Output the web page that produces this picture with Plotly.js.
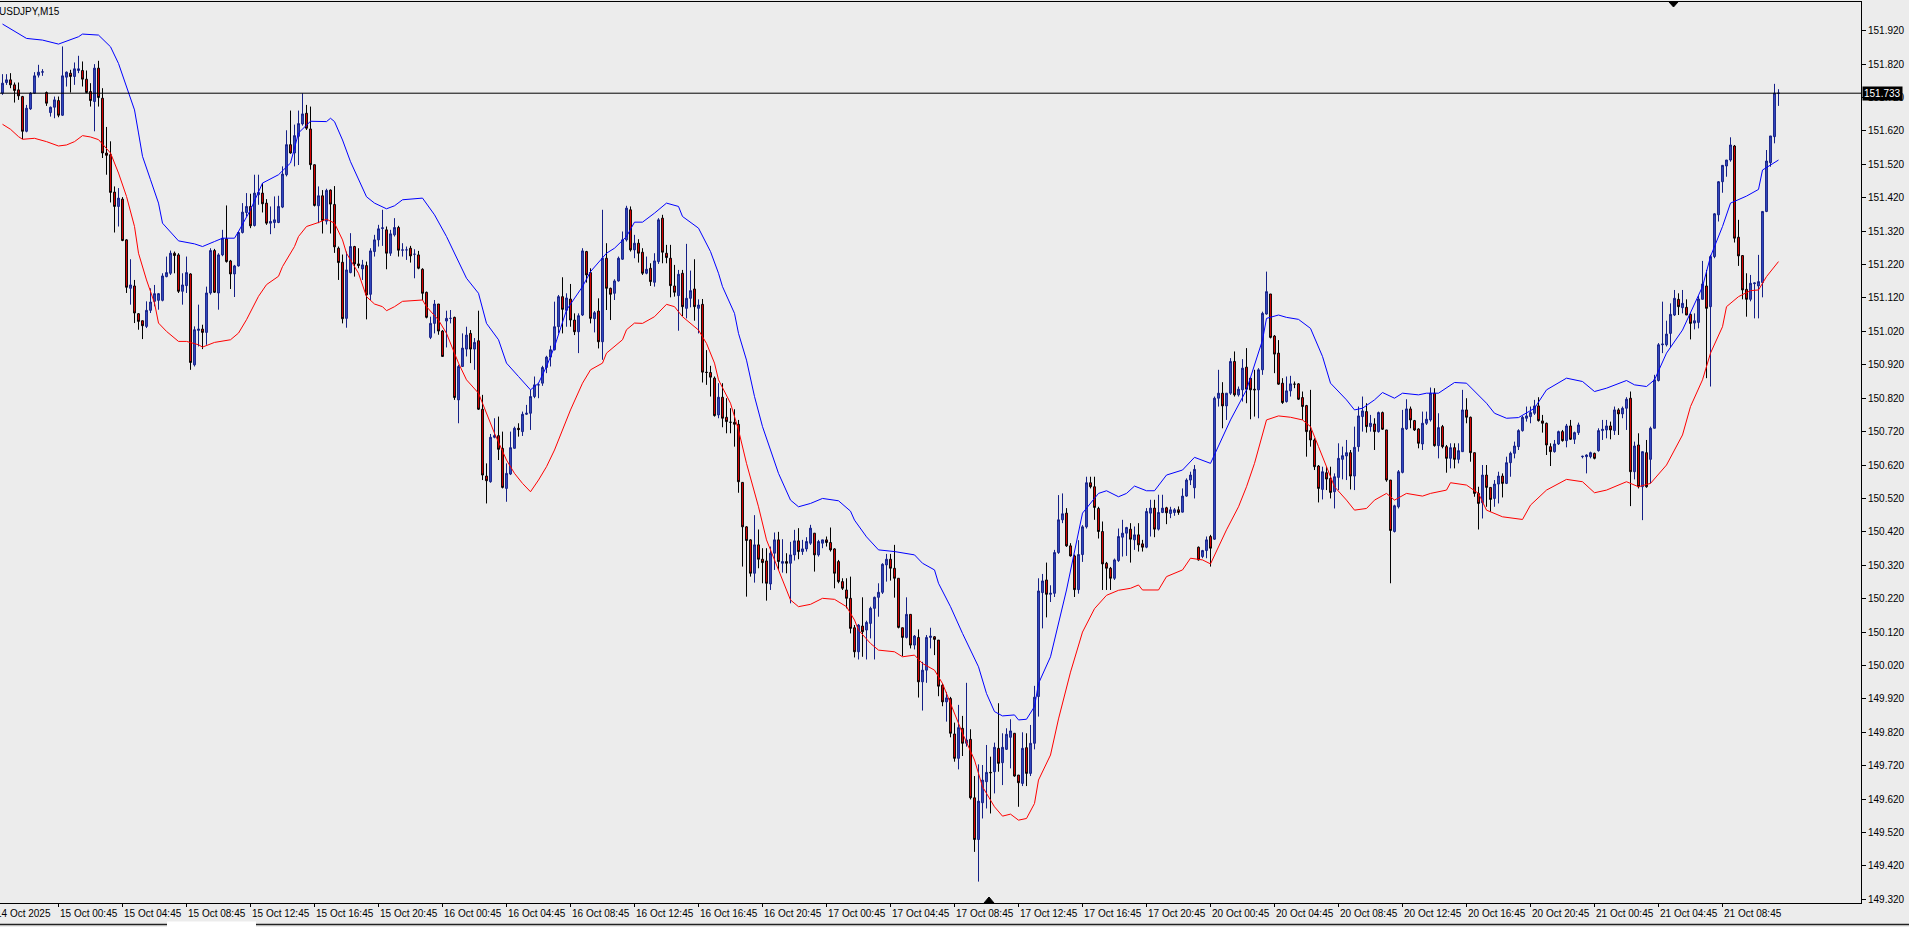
<!DOCTYPE html>
<html><head><meta charset="utf-8">
<script src="https://cdn.plot.ly/plotly-3.0.1.min.js"></script>
<style>html,body{margin:0;padding:0;background:#ececec;overflow:hidden}#chart{width:1909px;height:927px}</style>
</head><body><div id="chart"></div>
<script>
const symbolTitle = 'USDJPY,M15';
const lastPrice = 151.733;

const open = [
151.733,151.765,151.773,151.758,151.743,151.723,151.619,151.686,151.733,151.787,
151.796,151.735,151.675,151.691,151.711,151.667,151.781,151.793,151.783,151.801,
151.801,151.775,151.738,151.708,151.808,151.718,151.554,151.549,151.437,151.394,
151.416,151.294,151.149,151.156,151.073,151.052,151.035,151.083,151.110,151.113,
151.113,151.184,151.194,151.254,151.249,151.140,151.157,151.192,150.920,151.023,
151.027,151.017,151.135,151.262,151.135,151.249,151.297,151.231,151.192,151.216,
151.316,151.376,151.394,151.337,151.429,151.434,151.404,151.344,151.346,151.346,
151.392,151.489,151.579,151.554,151.604,151.641,151.673,151.626,151.519,151.396,
151.426,151.350,151.443,151.400,151.269,151.227,151.059,151.196,151.274,151.222,
151.207,151.217,151.131,151.259,151.294,151.328,151.324,151.254,151.309,151.331,
151.263,151.264,151.269,151.251,151.249,151.206,151.137,151.002,151.044,151.102,
151.021,151.051,151.059,151.062,150.815,150.915,150.967,151.014,150.967,150.992,
150.787,150.587,150.570,150.703,150.708,150.670,150.550,150.593,150.670,150.730,
150.720,150.772,150.775,150.825,150.860,150.865,150.912,150.943,150.965,151.034,
151.124,151.083,151.117,151.054,151.019,151.069,151.259,151.196,151.058,151.081,
150.989,151.239,151.149,151.134,151.171,151.236,151.294,151.384,151.264,151.284,
151.257,151.194,151.209,151.167,151.229,151.359,151.254,151.239,151.156,151.127,
151.194,151.089,151.119,151.147,151.089,151.101,150.898,150.897,150.880,150.770,
150.823,150.763,150.748,150.748,150.742,150.568,150.435,150.396,150.296,150.381,
150.338,150.333,150.264,150.356,150.396,150.326,150.331,150.326,150.351,150.393,
150.361,150.369,150.386,150.416,150.351,150.386,150.396,150.388,150.369,150.331,
150.271,150.246,150.221,150.133,150.061,150.138,150.126,150.146,150.191,150.224,
150.239,150.321,150.338,150.311,150.281,150.133,150.104,150.173,150.081,150.104,
149.971,150.006,150.104,150.106,150.096,149.961,149.911,149.921,149.815,149.742,
149.832,149.787,149.799,149.624,149.499,149.609,149.672,149.700,149.702,149.772,
149.729,149.769,149.805,149.817,149.692,149.667,149.774,149.697,149.787,149.927,
150.238,150.276,150.233,150.236,150.358,150.456,150.476,150.378,150.348,150.247,
150.352,150.435,150.567,150.555,150.490,150.421,150.326,150.311,150.281,150.334,
150.404,150.416,150.428,150.396,150.411,150.384,150.374,150.476,150.491,150.428,
150.478,150.492,150.475,150.478,150.486,150.479,150.527,150.575,150.552,150.374,
150.346,150.364,150.406,150.398,150.820,150.835,150.797,150.835,150.930,150.830,
150.845,150.913,150.880,150.847,150.845,150.905,151.072,151.132,151.006,150.955,
150.865,150.810,150.842,150.862,150.863,150.822,150.798,150.723,150.695,150.617,
150.547,150.597,150.580,150.540,150.583,150.637,150.647,150.657,150.587,150.675,
150.765,150.780,150.735,150.743,150.720,150.777,150.725,150.575,150.421,150.495,
150.598,150.728,150.788,150.753,150.728,150.683,150.745,150.755,150.835,150.678,
150.735,150.675,150.640,150.672,150.637,150.660,150.785,150.763,150.657,150.535,
150.507,150.590,150.553,150.520,150.563,150.587,150.565,150.627,150.655,150.675,
150.723,150.760,150.765,150.775,150.797,150.752,150.745,150.675,150.660,150.683,
150.720,150.693,150.737,150.697,150.717,150.645,150.645,150.645,150.655,150.663,
150.723,150.725,150.737,150.723,150.785,150.773,150.790,150.820,150.600,150.680,
150.555,150.657,150.637,150.730,150.873,150.980,150.980,151.014,151.069,151.116,
151.091,151.092,151.071,151.045,151.047,151.116,151.156,151.094,151.244,151.369,
151.468,151.515,151.533,151.575,151.302,151.247,151.146,151.116,151.163,151.156,
151.166,151.379,151.525,151.603,151.733];

const high = [
151.790,151.790,151.793,151.765,151.765,151.725,151.698,151.736,151.796,151.818,
151.805,151.738,151.693,151.723,151.723,151.873,151.798,151.803,151.825,151.845,
151.828,151.801,151.763,151.820,151.830,151.748,151.632,151.589,151.454,151.449,
151.422,151.296,151.236,151.174,151.075,151.052,151.110,151.149,151.159,151.135,
151.194,151.244,151.262,151.259,151.254,151.194,151.244,151.194,151.035,151.100,
151.040,151.154,151.269,151.267,151.254,151.324,151.397,151.234,151.219,151.320,
151.404,151.434,151.432,151.489,151.489,151.464,151.416,151.394,151.424,151.426,
151.514,151.622,151.681,151.639,151.681,151.733,151.698,151.693,151.519,151.454,
151.443,151.447,151.445,151.455,151.274,151.250,151.259,151.314,151.276,151.269,
151.234,151.229,151.269,151.309,151.339,151.384,151.334,151.324,151.359,151.336,
151.284,151.274,151.276,151.266,151.261,151.209,151.139,151.064,151.114,151.102,
151.024,151.082,151.084,151.064,150.920,151.014,151.034,151.024,151.000,151.082,
150.830,150.625,150.713,150.760,150.765,150.720,150.625,150.720,150.735,150.745,
150.780,150.800,150.845,150.885,150.865,150.917,150.947,150.977,151.109,151.129,
151.182,151.134,151.162,151.074,151.074,151.269,151.261,151.209,151.081,151.119,
151.384,151.284,151.151,151.176,151.244,151.319,151.396,151.394,151.309,151.296,
151.269,151.244,151.224,151.254,151.359,151.369,151.279,151.279,151.219,151.204,
151.204,151.282,151.202,151.236,151.116,151.117,150.964,150.917,150.885,150.865,
150.865,150.820,150.790,150.787,150.755,150.568,150.437,150.398,150.470,150.427,
150.371,150.371,150.376,150.418,150.420,150.398,150.356,150.390,150.426,150.431,
150.396,150.404,150.441,150.416,150.396,150.396,150.406,150.433,150.371,150.336,
150.281,150.281,150.286,150.141,150.144,150.224,150.154,150.196,150.226,150.266,
150.326,150.354,150.354,150.381,150.281,150.133,150.224,150.173,150.111,150.128,
150.031,150.111,150.133,150.108,150.096,149.966,149.941,149.926,149.849,149.902,
149.869,149.968,149.829,149.689,149.724,149.722,149.782,149.747,149.789,149.907,
149.817,149.832,149.859,149.817,149.692,149.820,149.817,149.842,149.959,150.281,
150.294,150.328,150.260,150.366,150.530,150.535,150.491,150.386,150.352,150.395,
150.440,150.585,150.585,150.585,150.495,150.451,150.330,150.315,150.340,150.430,
150.456,150.435,150.446,150.436,150.446,150.396,150.491,150.516,150.516,150.531,
150.531,150.495,150.495,150.491,150.496,150.550,150.580,150.600,150.620,150.376,
150.366,150.406,150.411,150.825,150.905,150.868,150.835,150.940,150.960,150.855,
150.937,150.970,150.880,150.905,150.910,151.079,151.199,151.132,151.009,150.994,
150.880,150.885,150.887,150.870,150.865,150.840,150.800,150.845,150.700,150.620,
150.615,150.615,150.615,150.595,150.685,150.675,150.695,150.665,150.735,150.795,
150.825,150.805,150.770,150.760,150.780,150.780,150.725,150.575,150.501,150.605,
150.785,150.817,150.795,150.755,150.730,150.780,150.780,150.852,150.850,150.775,
150.740,150.680,150.685,150.685,150.685,150.845,150.820,150.765,150.657,150.555,
150.620,150.620,150.553,150.575,150.600,150.595,150.645,150.660,150.690,150.727,
150.767,150.795,150.795,150.815,150.823,150.770,150.747,150.685,150.695,150.723,
150.725,150.743,150.755,150.720,150.747,150.648,150.652,150.660,150.657,150.730,
150.755,150.755,150.750,150.795,150.790,150.795,150.823,150.840,150.690,150.715,
150.660,150.695,150.735,150.890,150.985,151.109,151.052,151.104,151.144,151.134,
151.144,151.116,151.074,151.074,151.126,151.231,151.204,151.249,151.374,151.470,
151.518,151.533,151.601,151.578,151.354,151.247,151.194,151.189,151.166,151.249,
151.379,151.563,151.605,151.761,151.745];

const low = [
151.728,151.758,151.748,151.705,151.713,151.596,151.616,151.683,151.731,151.780,
151.785,151.695,151.663,151.658,151.661,151.665,151.753,151.735,151.758,151.793,
151.753,151.733,151.693,151.619,151.693,151.539,151.489,151.406,151.316,151.334,
151.290,151.135,151.100,151.045,151.025,150.997,151.030,151.075,151.095,151.085,
151.110,151.182,151.189,151.194,151.135,151.100,151.135,150.905,150.915,150.975,
150.967,150.980,151.130,151.135,151.085,151.245,151.226,151.147,151.123,151.214,
151.313,151.364,151.329,151.334,151.399,151.376,151.339,151.311,151.329,151.344,
151.389,151.484,151.552,151.514,151.518,151.636,151.623,151.504,151.394,151.344,
151.313,151.340,151.313,151.255,151.174,151.044,151.031,151.194,151.184,151.209,
151.174,151.056,151.114,151.244,151.274,151.276,151.206,151.246,151.304,151.244,
151.244,151.234,151.226,151.179,151.206,151.114,151.059,150.997,151.014,151.010,
150.945,150.972,151.044,150.815,150.745,150.915,150.945,150.925,150.905,150.785,
150.575,150.505,150.567,150.700,150.635,150.550,150.510,150.590,150.670,150.705,
150.707,150.770,150.725,150.820,150.820,150.857,150.895,150.915,150.963,151.014,
151.014,151.034,151.034,151.009,150.955,151.066,151.166,151.044,151.017,150.969,
150.935,151.084,151.054,151.114,151.169,151.234,151.289,151.259,151.239,151.226,
151.189,151.191,151.156,151.154,151.222,151.224,151.224,151.122,151.124,151.022,
151.066,151.059,151.092,151.052,151.014,150.867,150.860,150.825,150.765,150.760,
150.733,150.715,150.715,150.675,150.537,150.316,150.226,150.286,150.268,150.311,
150.266,150.214,150.246,150.306,150.306,150.298,150.296,150.206,150.334,150.338,
150.351,150.361,150.381,150.301,150.346,150.371,150.376,150.361,150.251,150.266,
150.246,150.191,150.116,150.044,150.038,150.046,150.038,150.101,150.038,150.166,
150.234,150.271,150.274,150.223,150.131,150.048,150.101,150.071,150.068,149.924,
149.885,149.968,150.071,150.051,149.928,149.898,149.852,149.805,149.732,149.709,
149.749,149.777,149.619,149.462,149.373,149.562,149.592,149.577,149.637,149.702,
149.662,149.767,149.712,149.687,149.597,149.659,149.659,149.689,149.769,149.867,
150.131,150.164,150.210,150.225,150.354,150.446,150.375,150.346,150.225,150.235,
150.330,150.430,150.550,150.456,150.400,150.246,150.246,150.246,150.276,150.330,
150.346,150.348,150.328,150.366,150.361,150.361,150.371,150.406,150.404,150.424,
150.476,150.443,150.461,150.468,150.471,150.478,150.525,150.560,150.520,150.334,
150.341,150.341,150.316,150.396,150.795,150.730,150.755,150.830,150.825,150.825,
150.810,150.805,150.757,150.765,150.760,150.890,151.070,150.999,150.895,150.860,
150.803,150.807,150.825,150.850,150.815,150.755,150.645,150.675,150.605,150.508,
150.517,150.545,150.520,150.490,150.545,150.577,150.575,150.547,150.545,150.660,
150.720,150.717,150.720,150.665,150.717,150.725,150.570,150.266,150.418,150.490,
150.595,150.725,150.730,150.722,150.670,150.665,150.740,150.750,150.675,150.640,
150.670,150.597,150.610,150.610,150.625,150.660,150.745,150.630,150.525,150.427,
150.460,150.495,150.480,150.495,150.505,150.523,150.563,150.585,150.640,150.665,
150.720,150.750,150.745,150.770,150.750,150.717,150.650,150.617,150.657,150.680,
150.690,150.673,150.695,150.683,150.710,150.640,150.595,150.640,150.637,150.660,
150.695,150.700,150.697,150.710,150.710,150.760,150.725,150.497,150.577,150.550,
150.455,150.552,150.565,150.730,150.870,150.955,150.975,150.972,151.066,151.069,
151.074,151.069,150.996,151.026,151.029,151.116,150.880,150.855,151.239,151.349,
151.435,151.483,151.528,151.286,151.216,151.116,151.064,151.110,151.059,151.059,
151.122,151.377,151.513,151.583,151.695];

const close = [
151.763,151.773,151.758,151.741,151.725,151.619,151.688,151.733,151.785,151.796,
151.797,151.703,151.691,151.713,151.667,151.785,151.796,151.783,151.806,151.806,
151.775,151.735,151.711,151.808,151.720,151.554,151.547,151.436,151.394,151.419,
151.292,151.152,151.159,151.075,151.050,151.037,151.083,151.108,151.133,151.133,
151.186,151.196,151.254,151.247,151.140,151.159,151.196,150.927,151.025,151.027,
151.017,151.135,151.262,151.137,151.249,151.299,151.229,151.192,151.216,151.316,
151.377,151.394,151.336,151.434,151.436,151.402,151.344,151.349,151.354,151.394,
151.491,151.579,151.554,151.606,151.642,151.671,151.628,151.519,151.397,151.426,
151.352,151.442,151.401,151.273,151.226,151.058,151.204,151.274,151.222,151.217,
151.219,151.129,151.261,151.294,151.327,151.330,151.254,151.312,151.331,151.263,
151.264,151.264,151.246,151.251,151.209,151.134,151.062,151.044,151.102,151.021,
150.945,151.059,151.059,150.822,150.915,150.970,151.009,150.967,150.987,150.787,
150.590,150.573,150.703,150.708,150.667,150.553,150.595,150.672,150.730,150.726,
150.772,150.775,150.825,150.860,150.860,150.912,150.943,150.965,151.034,151.124,
151.086,151.120,151.054,151.019,151.067,151.261,151.189,151.059,151.076,150.989,
151.239,151.149,151.131,151.171,151.239,151.294,151.389,151.264,151.284,151.254,
151.194,151.206,151.169,151.231,151.354,151.257,151.241,151.157,151.137,151.191,
151.094,151.119,151.142,151.094,151.099,150.898,150.897,150.883,150.768,150.823,
150.760,150.750,150.748,150.742,150.570,150.435,150.394,150.296,150.381,150.338,
150.328,150.266,150.356,150.396,150.331,150.331,150.326,150.351,150.393,150.361,
150.369,150.391,150.431,150.351,150.391,150.396,150.388,150.366,150.296,150.271,
150.251,150.221,150.131,150.061,150.141,150.121,150.149,150.191,150.224,150.239,
150.323,150.338,150.311,150.281,150.134,150.104,150.173,150.081,150.108,149.971,
150.006,150.104,150.108,150.098,149.958,149.911,149.923,149.817,149.742,149.834,
149.787,149.797,149.624,149.499,149.614,149.677,149.700,149.699,149.775,149.727,
149.775,149.814,149.824,149.689,149.669,149.772,149.697,149.787,149.925,150.243,
150.273,150.233,150.236,150.358,150.456,150.474,150.378,150.348,150.247,150.352,
150.435,150.567,150.555,150.493,150.421,150.324,150.311,150.281,150.336,150.406,
150.416,150.433,150.398,150.411,150.381,150.374,150.481,150.491,150.428,150.478,
150.491,150.477,150.486,150.486,150.478,150.527,150.575,150.590,150.607,150.336,
150.364,150.396,150.371,150.820,150.835,150.797,150.835,150.930,150.830,150.847,
150.910,150.847,150.845,150.845,150.905,151.074,151.139,151.002,150.952,150.862,
150.807,150.842,150.863,150.862,150.817,150.795,150.720,150.695,150.615,150.550,
150.600,150.578,150.538,150.585,150.640,150.648,150.657,150.587,150.673,150.767,
150.782,150.735,150.745,150.720,150.777,150.727,150.575,150.424,150.498,150.600,
150.730,150.788,150.755,150.725,150.685,150.745,150.757,150.835,150.678,150.732,
150.675,150.640,150.672,150.637,150.663,150.785,150.763,150.657,150.535,150.505,
150.590,150.553,150.517,150.563,150.587,150.565,150.627,150.655,150.677,150.723,
150.763,150.767,150.777,150.797,150.753,150.745,150.680,150.660,150.683,150.720,
150.693,150.737,150.697,150.717,150.740,150.646,150.650,150.657,150.640,150.723,
150.727,150.737,150.725,150.785,150.773,150.790,150.817,150.600,150.677,150.555,
150.660,150.555,150.730,150.875,150.980,150.982,151.012,151.071,151.119,151.094,
151.104,151.069,151.044,151.052,151.117,151.162,151.089,151.244,151.372,151.468,
151.517,151.533,151.578,151.299,151.246,151.144,151.116,151.164,151.165,151.169,
151.379,151.530,151.605,151.733,151.733];

// upper (blue) band, read at bar positions
const upperBar = [0,4,6,10,14,19,20,24,27,29,
31,33,34,35,37,39,40,43,44,48,
50,53,55,58,59,62,65,69,72,74,
77,81,82,83,85,87,89,91,93,96,
98,100,105,108,111,113,116,119,121,124,
126,129,132,134,136,138,141,145,147,151,
153,156,158,160,163,166,169,170,174,177,
179,180,183,184,186,188,190,192,194,197,
199,202,205,209,212,213,216,219,223,228,
230,233,234,237,240,244,246,248,250,253,
254,256,258,259,262,266,269,270,274,276,
279,281,283,286,288,291,295,298,302,304,
307,311,315,316,319,321,324,327,330,332,
336,338,340,343,345,348,350,354,356,359,
361,363,366,371,373,376,379,383,386,391,
395,398,401,406,408,411,413,416,420,422,
425,427,430,432,436,439,440,444];
const upperVal = [151.940,151.912,151.897,151.892,151.880,151.902,151.910,151.907,151.872,151.822,
151.752,151.683,151.614,151.544,151.474,151.404,151.344,151.304,151.291,151.282,
151.274,151.289,151.299,151.299,151.319,151.384,151.464,151.489,151.524,151.614,
151.649,151.648,151.658,151.648,151.593,151.528,151.473,151.423,151.404,151.387,
151.396,151.414,151.419,151.369,151.304,151.254,151.179,151.134,151.044,150.995,
150.925,150.885,150.845,150.865,150.915,150.974,151.084,151.154,151.199,151.254,
151.269,151.304,151.347,151.347,151.374,151.404,151.394,151.364,151.329,151.259,
151.194,151.154,151.074,151.014,150.934,150.825,150.735,150.665,150.595,150.515,
150.495,150.505,150.520,150.513,150.482,150.455,150.405,150.366,150.361,150.351,
150.326,150.306,150.266,150.196,150.116,150.016,149.936,149.882,149.869,149.872,
149.857,149.859,149.897,149.966,150.046,150.246,150.426,150.476,150.535,150.543,
150.525,150.535,150.557,150.543,150.543,150.590,150.605,150.643,150.625,150.675,
150.755,150.845,150.994,151.059,151.069,151.062,151.056,151.029,150.945,150.865,
150.815,150.785,150.790,150.815,150.837,150.820,150.835,150.830,150.835,150.835,
150.850,150.867,150.865,150.805,150.775,150.760,150.762,150.790,150.845,150.880,
150.870,150.840,150.850,150.873,150.860,150.855,150.875,150.955,151.024,151.074,
151.154,151.244,151.334,151.404,151.425,151.445,151.503,151.533];

// lower (red) band, read at bar positions
const lowerBar = [0,2,4,5,8,11,14,16,18,20,
22,24,27,29,31,33,34,36,38,39,
41,44,46,49,50,53,57,59,61,64,
66,69,70,73,74,76,79,81,83,85,
86,89,91,93,95,96,98,100,105,106,
109,111,114,116,119,121,123,126,128,130,
132,134,136,138,140,142,145,147,150,151,
155,156,158,160,163,166,168,170,174,176,
178,179,182,184,186,189,191,194,197,199,
202,205,208,211,213,214,217,219,223,225,
228,230,233,235,238,240,243,245,248,250,
252,254,256,258,259,262,264,267,270,273,
276,279,282,284,285,289,291,295,297,300,
302,304,306,309,311,313,315,316,319,322,
325,327,329,331,333,336,338,341,343,346,
348,351,355,357,361,362,366,369,371,375,
380,382,386,391,395,398,401,406,409,412,
416,420,422,425,427,430,431,434,437,439,
441,444];
const lowerVal = [151.640,151.625,151.603,151.595,151.598,151.588,151.575,151.578,151.588,151.606,
151.602,151.594,151.554,151.494,151.424,151.334,151.254,151.174,151.105,151.045,
151.020,150.990,150.990,150.980,150.973,150.987,150.995,151.015,151.055,151.125,
151.160,151.185,151.214,151.274,151.304,151.334,151.346,151.356,151.344,151.294,
151.254,151.194,151.124,151.102,151.094,151.082,151.094,151.110,151.114,151.094,
151.054,151.014,150.925,150.875,150.835,150.775,150.715,150.635,150.595,150.565,
150.540,150.575,150.615,150.665,150.725,150.785,150.865,150.905,150.925,150.955,
150.995,151.025,151.045,151.044,151.064,151.101,151.094,151.064,151.024,150.984,
150.925,150.875,150.805,150.725,150.625,150.495,150.396,150.306,150.216,150.196,
150.203,150.221,150.218,150.196,150.156,150.126,150.086,150.066,150.061,150.046,
150.051,150.026,150.006,149.966,149.876,149.817,149.737,149.657,149.597,149.569,
149.575,149.557,149.562,149.607,149.677,149.752,149.860,150.000,150.120,150.190,
150.230,150.245,150.251,150.261,150.246,150.246,150.286,150.306,150.341,150.336,
150.324,150.376,150.426,150.495,150.555,150.625,150.715,150.755,150.767,150.763,
150.755,150.735,150.675,150.615,150.555,150.515,150.485,150.490,150.515,150.535,
150.515,150.535,150.527,150.535,150.545,150.567,150.560,150.535,150.485,150.465,
150.457,150.500,150.545,150.577,150.570,150.537,150.545,150.570,150.555,150.565,
150.620,150.710,150.795,150.875,150.955,151.034,151.094,151.124,151.142,151.144,
151.184,151.229];

const timeLabelBars = [-2,14,30,46,62,78,94,110,126,142,158,174,190,206,222,238,254,270,286,302,318,334,350,366,382,398,414,430];
const timeLabels = ['14 Oct 2025','15 Oct 00:45','15 Oct 04:45','15 Oct 08:45','15 Oct 12:45','15 Oct 16:45','15 Oct 20:45',
'16 Oct 00:45','16 Oct 04:45','16 Oct 08:45','16 Oct 12:45','16 Oct 16:45','16 Oct 20:45',
'17 Oct 00:45','17 Oct 04:45','17 Oct 08:45','17 Oct 12:45','17 Oct 16:45','17 Oct 20:45',
'20 Oct 00:45','20 Oct 04:45','20 Oct 08:45','20 Oct 12:45','20 Oct 16:45','20 Oct 20:45',
'21 Oct 00:45','21 Oct 04:45','21 Oct 08:45'];
const priceTicks = [149.32,149.42,149.52,149.62,149.72,149.82,149.92,150.02,150.12,150.22,150.32,150.42,150.52,150.62,150.72,150.82,150.92,151.02,151.12,151.22,151.32,151.42,151.52,151.62,151.72,151.82,151.92];

const barIndex = open.map((_, i) => i);
const xRange = [-0.625, 464.625];
const yRange = [149.309, 152.006];
const FONT = 'Tahoma, "Liberation Sans", Arial, sans-serif';
const FS = 10;
const BG = '#ececec';

const traces = [
  {type:'scatter', mode:'lines', x: upperBar, y: upperVal, line:{color:'#0000ff', width:1}, hoverinfo:'skip'},
  {type:'scatter', mode:'lines', x: lowerBar, y: lowerVal, line:{color:'#ff0000', width:1}, hoverinfo:'skip'},
  {type:'candlestick', x: barIndex, open: open, high: high, low: low, close: close,
   increasing:{line:{color:'#141f86', width:1}, fillcolor:'#3a4fc8'},
   decreasing:{line:{color:'#000000', width:1}, fillcolor:'#ff0000'},
   whiskerwidth: 0, hoverinfo:'skip'}
];

const annotations = [];
const span = xRange[1] - xRange[0];
timeLabelBars.forEach((b, k) => {
  const inRange = b >= xRange[0];
  annotations.push({
    xref: inRange ? 'x' : 'paper', x: inRange ? b : (b - xRange[0]) / span,
    yref:'paper', y:0, xanchor:'left', yanchor:'middle', yshift:-10, xshift:-1,
    text: timeLabels[k], showarrow:false, font:{family:FONT, size:FS, color:'#000'}
  });
});
annotations.push({xref:'paper', x:0, xshift:-3, yref:'paper', y:1, yshift:-9, xanchor:'left', yanchor:'middle',
  text: symbolTitle, showarrow:false, font:{family:FONT, size:FS, color:'#000'}});
annotations.push({xref:'paper', x:1, xshift:1, yref:'y', y:lastPrice, xanchor:'left', yanchor:'middle',
  text: lastPrice.toFixed(3), showarrow:false, bgcolor:'#000', borderpad:1,
  font:{family:FONT, size:FS, color:'#fff'}});

const W = 1861, H = 901;
const px = v => v / W, py = v => (903 - v) / H;
const shapes = [
  {type:'line', xref:'paper', yref:'y', x0:0, x1:1, y0:lastPrice, y1:lastPrice, line:{color:'#000', width:1}},
  {type:'path', xref:'paper', yref:'paper', path:`M ${px(1669)},${py(2)} L ${px(1678)},${py(2)} L ${px(1673.5)},${py(7)} Z`, fillcolor:'#000', line:{color:'#000', width:1}},
  {type:'path', xref:'paper', yref:'paper', path:`M ${px(984)},${py(903)} L ${px(994)},${py(903)} L ${px(989)},${py(897)} Z`, fillcolor:'#000', line:{color:'#000', width:1}},
  {type:'line', xref:'paper', yref:'paper', x0:px(0), x1:px(1909), y0:py(924.5), y1:py(924.5), line:{color:'#222', width:1.5}},
  {type:'rect', xref:'paper', yref:'paper', x0:px(167), x1:px(256), y0:py(921.5), y1:py(927.5), fillcolor:'#ffffff', line:{width:0}}
];

const layout = {
  width:1909, height:927, showlegend:false,
  paper_bgcolor:BG, plot_bgcolor:BG,
  margin:{l:0, r:48, t:2, b:24, pad:0},
  font:{family:FONT, size:FS, color:'#000'},
  boxgap:0.35,
  xaxis:{type:'linear', range:xRange, rangeslider:{visible:false}, showgrid:false, zeroline:false,
    showline:true, mirror:true, linecolor:'#000', linewidth:1,
    tickvals: timeLabelBars.filter(b => b >= xRange[0]), ticks:'outside', ticklen:3, tickcolor:'#000', showticklabels:false, fixedrange:true},
  yaxis:{side:'right', range:yRange, showgrid:false, zeroline:false, showline:true, linecolor:'#000', linewidth:1,
    tickvals: priceTicks, ticktext: priceTicks.map(v => v.toFixed(3)), ticks:'outside', ticklen:4, tickcolor:'#000',
    tickfont:{family:FONT, size:FS, color:'#000'}, fixedrange:true},
  annotations: annotations, shapes: shapes, hovermode:false
};

Plotly.newPlot('chart', traces, layout, {staticPlot:true, displayModeBar:false});
</script>
</body></html>
